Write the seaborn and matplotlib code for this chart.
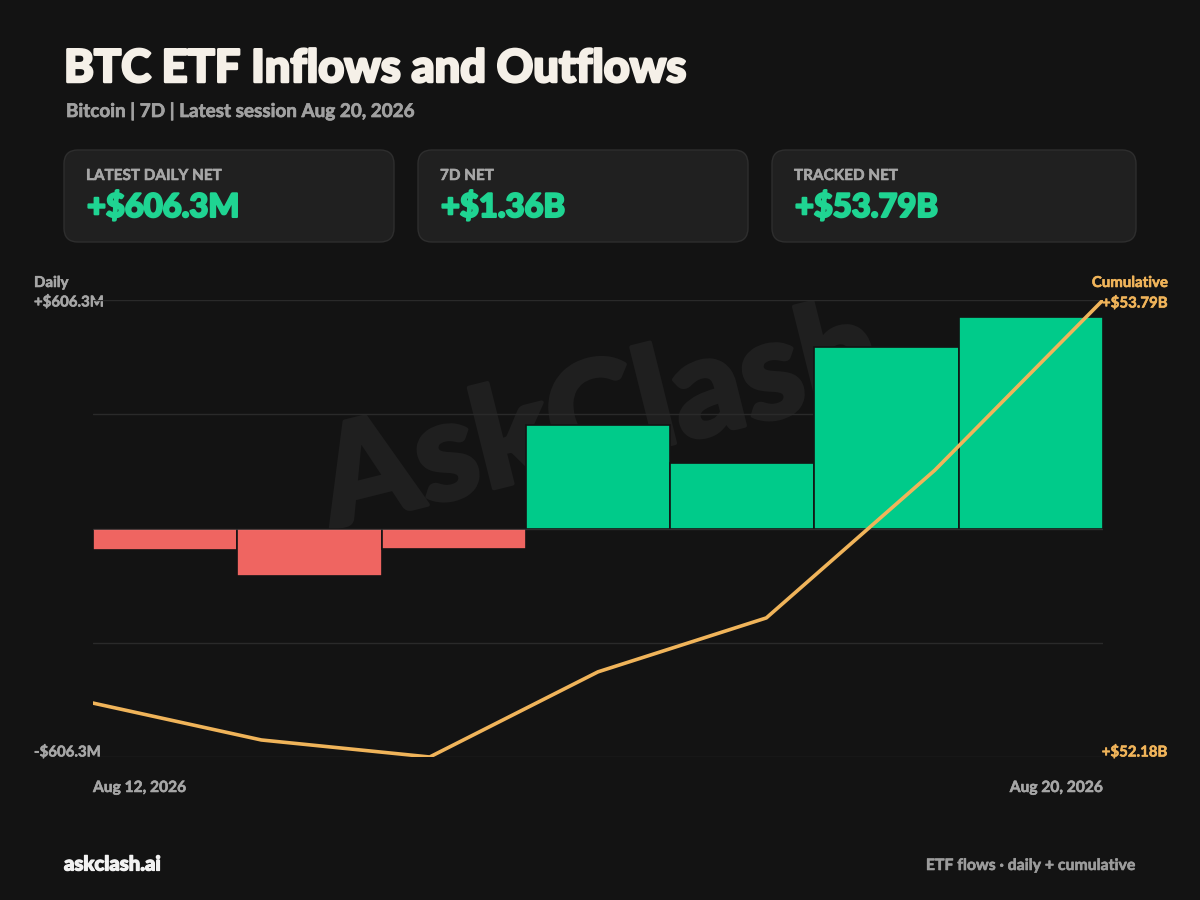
import matplotlib
matplotlib.use("Agg")
import matplotlib.pyplot as plt
from matplotlib.patches import FancyBboxPatch
import matplotlib.patheffects as pe
import seaborn as sns
import pandas as pd

# ---- data ----
dates = ["Aug 12, 2026", "Aug 13, 2026", "Aug 14, 2026", "Aug 17, 2026",
         "Aug 18, 2026", "Aug 19, 2026", "Aug 20, 2026"]
daily_musd = [-62.0, -135.0, -58.0, 298.0, 189.0, 520.0, 606.3]
cumulative_busd = [52.37, 52.24, 52.18, 52.48, 52.67, 53.19, 53.79]
card_labels = ["LATEST DAILY NET", "7D NET", "TRACKED NET"]
card_values = ["+$606.3M", "+$1.36B", "+$53.79B"]
title = "BTC ETF Inflows and Outflows"
subtitle = "Bitcoin | 7D | Latest session Aug 20, 2026"
footer_left = "askclash.ai"
footer_right = "ETF flows \u00b7 daily + cumulative"

# ---- style ----
BG = "#131313"
CARD = "#202020"
CARD_EDGE = "#2e2e2e"
GRID = "#2a2a2a"
GREEN = "#00cb8a"
GREEN_TXT = "#1fd492"
RED = "#ef6561"
ORANGE = "#f0b45a"
GRAY = "#a6a6a6"
FONT = "Lato"

sns.set_theme(style="dark")
plt.rcParams["font.family"] = [FONT, "DejaVu Sans"]


def heavy(color, w=0.8):
    return [pe.withStroke(linewidth=w, foreground=color)]


W, H = 1200, 900
fig = plt.figure(figsize=(12, 9), dpi=100, facecolor=BG)

# background / annotation layer in pixel coordinates
bg = fig.add_axes([0, 0, 1, 1], zorder=0)
bg.set_xlim(0, W)
bg.set_ylim(H, 0)
bg.axis("off")
bg.set_facecolor(BG)

bg.text(64, 82, title, fontsize=32.5, fontweight="black", color="#f5f0e8",
        ha="left", va="baseline", path_effects=heavy("#f5f0e8", 1.8))
bg.text(66, 111, subtitle, fontsize=13.6, fontweight="bold", color="#a0a0a0",
        ha="left", va="center", path_effects=heavy("#a0a0a0", 0.5))

cards = [(64, 150, 330, 92), (418, 150, 330, 92), (772, 150, 364, 92)]
for (x, y, w, h), lab, val in zip(cards, card_labels, card_values):
    bg.add_patch(FancyBboxPatch((x, y), w, h, boxstyle="round,pad=0,rounding_size=14",
                                facecolor=CARD, edgecolor=CARD_EDGE, linewidth=1.0))
    bg.text(x + 22, y + 26, lab, fontsize=11, fontweight="bold", color=GRAY,
            ha="left", va="center", path_effects=heavy(GRAY, 0.4))
    bg.text(x + 23, y + 57, val, fontsize=23.5, fontweight="black", color=GREEN_TXT,
            ha="left", va="center", path_effects=heavy(GREEN_TXT, 1.5))

# watermark (behind the bars)
bg.text(600, 420, "AskClash", fontsize=100, fontweight="black", color="#1f1f1f",
        rotation=14, ha="center", va="center", path_effects=heavy("#1f1f1f", 3))

bg.text(64, 864, footer_left, fontsize=14.6, fontweight="black", color="#f2f2f2",
        ha="left", va="center", path_effects=heavy("#f2f2f2", 0.9))
bg.text(1136, 866, footer_right, fontsize=11.4, fontweight="bold", color="#9c9c9c",
        ha="right", va="center", path_effects=heavy("#9c9c9c", 0.4))

# ---- chart axes ----
x0, x1, ytop, ybot = 93, 1103, 300, 757
rect = [x0 / W, (H - ybot) / H, (x1 - x0) / W, (ybot - ytop) / H]
ax = fig.add_axes(rect, zorder=1)
ax.set_facecolor("none")

df = pd.DataFrame({"date": dates, "daily": daily_musd})
colors = [GREEN if v >= 0 else RED for v in daily_musd]
sns.barplot(data=df, x="date", y="daily", hue="date", palette=colors,
            width=1.0, legend=False, ax=ax, edgecolor=BG, linewidth=1.2,
            saturation=1, zorder=2)
peak = max(abs(v) for v in daily_musd)
lim = peak * 1.08
ax.set_ylim(-lim, lim)
ax.set_xlim(-0.5, len(dates) - 0.5)
for yv in [-lim, -lim / 2, lim / 2, lim]:
    ax.axhline(yv, color=GRID, lw=1, zorder=0)
ax.axhline(0, color="#ffffff", alpha=0.12, lw=1, zorder=3)
ax.set_xticks([])
ax.set_yticks([])
ax.set_xlabel("")
ax.set_ylabel("")
for s in ax.spines.values():
    s.set_visible(False)

# cumulative line on its own axes over the same box
ax2 = fig.add_axes(rect, zorder=2)
ax2.set_facecolor("none")
ldf = pd.DataFrame({"i": range(len(dates)), "cum": cumulative_busd})
sns.lineplot(data=ldf, x="i", y="cum", color=ORANGE, lw=2.6, ax=ax2)
ax2.set_xlim(0, len(dates) - 1)
ax2.set_ylim(min(cumulative_busd), max(cumulative_busd))
ax2.axis("off")


# axis annotations
def fmt_m(v):
    return ("+" if v >= 0 else "-") + "$" + f"{abs(v):.1f}M"


lab_kw = dict(fontsize=10.8, fontweight="bold", va="center")
bg.text(34, 283, "Daily", color=GRAY, ha="left", path_effects=heavy(GRAY, 0.4), **lab_kw)
bg.text(34, 302, fmt_m(peak), color=GRAY, ha="left", path_effects=heavy(GRAY, 0.4), **lab_kw)
bg.text(34, 752, fmt_m(-peak), color=GRAY, ha="left", path_effects=heavy(GRAY, 0.4), **lab_kw)
bg.text(1168, 283, "Cumulative", color=ORANGE, ha="right", path_effects=heavy(ORANGE, 0.4), **lab_kw)
bg.text(1168, 303, f"+${max(cumulative_busd):.2f}B", color=ORANGE, ha="right",
        path_effects=heavy(ORANGE, 0.4), **lab_kw)
bg.text(1168, 752, f"+${min(cumulative_busd):.2f}B", color=ORANGE, ha="right",
        path_effects=heavy(ORANGE, 0.4), **lab_kw)
bg.text(x0, 788, dates[0], fontsize=11.2, fontweight="bold", color=GRAY, ha="left",
        va="center", path_effects=heavy(GRAY, 0.4))
bg.text(x1, 788, dates[-1], fontsize=11.2, fontweight="bold", color=GRAY, ha="right",
        va="center", path_effects=heavy(GRAY, 0.4))

fig.savefig("out.png", dpi=100, facecolor=BG)
